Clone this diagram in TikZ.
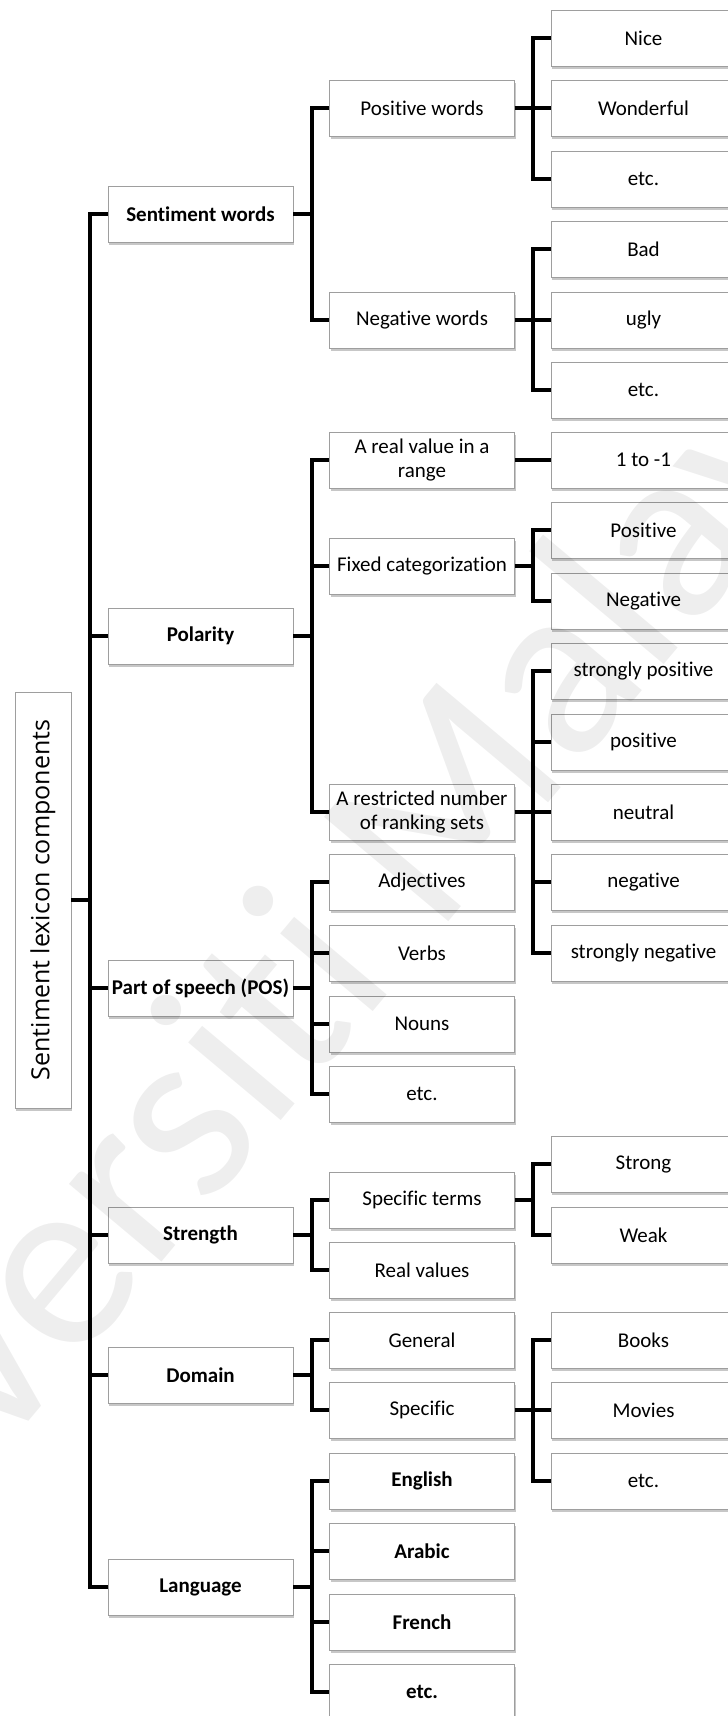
\documentclass[tikz,border=0pt]{standalone}
\usepackage{fontspec}
\setmainfont{Carlito}[Ligatures=NoCommon]
\newfontfamily\rootfont{Open Sans}
\usetikzlibrary{shadows}

\tikzset{
  box/.style={draw=black!38, line width=0.9pt, fill=white,
    minimum width=185pt, minimum height=56pt, inner sep=0pt, align=center,
    font=\fontsize{21}{24}\selectfont,
    drop shadow={shadow xshift=1.2pt, shadow yshift=-2.6pt, fill=black, opacity=0.22}},
  boldbox/.style={box, font=\fontsize{21}{24}\selectfont\bfseries},
  link/.style={line width=4pt, line join=miter, line cap=butt},
}

\begin{document}
\begin{tikzpicture}[x=1pt,y=-1pt]
\useasboundingbox (0,0) rectangle (728,1716);

% root
\node[box, minimum width=56pt, minimum height=416pt,
      font=\rootfont\fontsize{25}{30}\selectfont] (root) at (43,900)
  {\rotatebox{90}{Sentiment lexicon components}};

% first level
\node[boldbox] (sw)   at (200.5,214)  {Sentiment words};
\node[boldbox] (pol)  at (200.5,636)  {Polarity};
\node[boldbox] (pos)  at (200.5,988)  {Part of speech (POS)};
\node[boldbox] (str)  at (200.5,1235) {Strength};
\node[boldbox] (dom)  at (200.5,1375) {Domain};
\node[boldbox] (lang) at (200.5,1587) {Language};

% second level
\node[box] (pw)    at (422,108)  {Positive words};
\node[box] (nw)    at (422,320)  {Negative words};
\node[box] (rv)    at (422,460)  {A real value in a\\range};
\node[box] (fc)    at (422,566)  {Fixed categorization};
\node[box] (rn)    at (422,812)  {A restricted number\\of ranking sets};
\node[box] (adj)   at (422,882)  {Adjectives};
\node[box] (vb)    at (422,953)  {Verbs};
\node[box] (nn)    at (422,1024) {Nouns};
\node[box] (posx)  at (422,1094) {etc.};
\node[box] (st)    at (422,1200) {Specific terms};
\node[box] (rvals) at (422,1270) {Real values};
\node[box] (gen)   at (422,1340) {General};
\node[box] (spc)   at (422,1410) {Specific};
\node[boldbox] (en)    at (422,1481) {English};
\node[boldbox] (ar)    at (422,1551) {Arabic};
\node[boldbox] (fr)    at (422,1622) {French};
\node[boldbox] (langx) at (422,1692) {etc.};

% third level
\node[box] (nice)  at (643.5,38)   {Nice};
\node[box] (wond)  at (643.5,108)  {Wonderful};
\node[box] (pwx)   at (643.5,179)  {etc.};
\node[box] (bad)   at (643.5,249)  {Bad};
\node[box] (ugly)  at (643.5,320)  {ugly};
\node[box] (nwx)   at (643.5,390)  {etc.};
\node[box] (rng)   at (643.5,460)  {1 to -1};
\node[box] (fpos)  at (643.5,530)  {Positive};
\node[box] (fneg)  at (643.5,601)  {Negative};
\node[box] (spos)  at (643.5,671)  {strongly positive};
\node[box] (rpos)  at (643.5,742)  {positive};
\node[box] (neu)   at (643.5,812)  {neutral};
\node[box] (rneg)  at (643.5,882)  {negative};
\node[box] (sneg)  at (643.5,953)  {strongly negative};
\node[box] (stg)   at (643.5,1164) {Strong};
\node[box] (wk)    at (643.5,1235) {Weak};
\node[box] (bk)    at (643.5,1340) {Books};
\node[box] (mv)    at (643.5,1410) {Movies};
\node[box] (domx)  at (643.5,1481) {etc.};

% elbow connectors: parent -> bus -> child
\foreach \c in {sw,pol,pos,str,dom,lang}
  \draw[link] (root.east) -- ++(18.5,0) |- (\c.west);
\foreach \c in {pw,nw}        \draw[link] (sw.east)  -- ++(18.5,0) |- (\c.west);
\foreach \c in {rv,fc,rn}     \draw[link] (pol.east) -- ++(18.5,0) |- (\c.west);
\foreach \c in {adj,vb,nn,posx} \draw[link] (pos.east) -- ++(18.5,0) |- (\c.west);
\foreach \c in {st,rvals}     \draw[link] (str.east) -- ++(18.5,0) |- (\c.west);
\foreach \c in {gen,spc}      \draw[link] (dom.east) -- ++(18.5,0) |- (\c.west);
\foreach \c in {en,ar,fr,langx} \draw[link] (lang.east) -- ++(18.5,0) |- (\c.west);
\foreach \c in {nice,wond,pwx} \draw[link] (pw.east) -- ++(18.5,0) |- (\c.west);
\foreach \c in {bad,ugly,nwx} \draw[link] (nw.east) -- ++(18.5,0) |- (\c.west);
\draw[link] (rv.east) -- (rng.west);
\foreach \c in {fpos,fneg}    \draw[link] (fc.east) -- ++(18.5,0) |- (\c.west);
\foreach \c in {spos,rpos,neu,rneg,sneg} \draw[link] (rn.east) -- ++(18.5,0) |- (\c.west);
\foreach \c in {stg,wk}       \draw[link] (st.east) -- ++(18.5,0) |- (\c.west);
\foreach \c in {bk,mv,domx}   \draw[link] (spc.east) -- ++(18.5,0) |- (\c.west);

% faint diagonal stamp across the chart
\node[rotate=50, anchor=west, text=black, opacity=0.065,
      font=\fontsize{253}{253}\selectfont] (stamp) at (-282,1687) {Universiti Malaya};
\end{tikzpicture}
\end{document}
